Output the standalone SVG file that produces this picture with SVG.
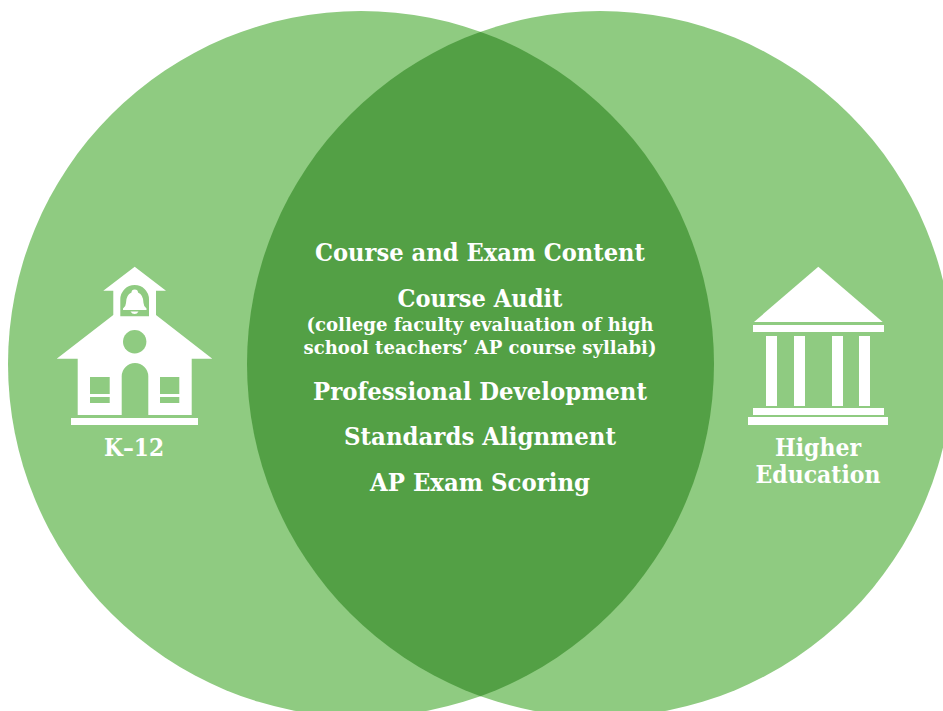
<svg xmlns="http://www.w3.org/2000/svg" width="943" height="711" viewBox="0 0 943 711">
<style>
.c{fill:#8fcb81}
.o{fill:#53a045}
text{fill:#fff;font-family:"DejaVu Serif","Liberation Serif",serif;font-weight:700;text-anchor:middle}
.h{font-size:24.500px}
.s{font-size:18.500px}
.i{fill:#fff}
</style>
<defs>
<clipPath id="cl"><circle cx="361" cy="364" r="353"/></clipPath>
</defs>
<rect width="943" height="711" fill="#fff"/>
<g id="venn">
<circle class="c" cx="361" cy="364" r="353"/>
<circle class="c" cx="600" cy="364" r="353"/>
<circle class="o" cx="600" cy="364" r="353" clip-path="url(#cl)"/>
</g>
<g id="k12">
<path class="i" fill-rule="evenodd" d="M134.700 266.700L166 290.700H156V315L212.300 358.700H191.700V415H148.300V376.300A13.300 13.300 0 0 0 121.700 376.300V415H77.700V358.700H56.700L113.300 315V290.700H103.300ZM120.300 316.300H149V299.300A14.300 14.300 0 0 0 120.300 299.300Z"/>
<path class="i" d="M134.700 289.500Q138 289.500 138 292.500Q143.500 295 143.500 303Q143.500 306 146.500 308.500V310H123V308.500Q126 306 126 303Q126 295 131.500 292.500Q131.500 289.500 134.700 289.500ZM130.500 311.500H138.500Q137 314 134.700 314Q132 314 130.500 311.500Z"/>
<circle cx="134.700" cy="341.700" r="11.700" class="c"/>
<rect x="90" y="377" width="19.700" height="17" class="c"/>
<rect x="90" y="397" width="19.700" height="6" class="c"/>
<rect x="160" y="377" width="19.300" height="17" class="c"/>
<rect x="160" y="397" width="19.300" height="6" class="c"/>
<rect x="71" y="418" width="127" height="7" class="i"/>
<text class="h" x="134" y="456" textLength="60" lengthAdjust="spacingAndGlyphs">K–12</text>
</g>
<g id="higher">
<path class="i" d="M818.300 266.700L882.700 322H754Z"/>
<rect x="753" y="325" width="131" height="7" class="i"/>
<rect x="766" y="336" width="11" height="70" class="i"/>
<rect x="794" y="336" width="11" height="70" class="i"/>
<rect x="832" y="336" width="11" height="70" class="i"/>
<rect x="859" y="336" width="11" height="70" class="i"/>
<rect x="753" y="408" width="131" height="7" class="i"/>
<rect x="748" y="417" width="140" height="8" class="i"/>
<text class="h" x="818" y="456" textLength="86" lengthAdjust="spacingAndGlyphs">Higher</text>
<text class="h" x="818" y="483" textLength="125" lengthAdjust="spacingAndGlyphs">Education</text>
</g>
<g id="shared">
<text class="h" x="480" y="261" textLength="330" lengthAdjust="spacingAndGlyphs">Course and Exam Content</text>
<text class="h" x="480" y="307" textLength="165" lengthAdjust="spacingAndGlyphs">Course Audit</text>
<text class="s" x="480" y="331" textLength="347" lengthAdjust="spacingAndGlyphs">(college faculty evaluation of high</text>
<text class="s" x="480" y="354" textLength="353" lengthAdjust="spacingAndGlyphs">school teachers’ AP course syllabi)</text>
<text class="h" x="480" y="400" textLength="334" lengthAdjust="spacingAndGlyphs">Professional Development</text>
<text class="h" x="480" y="445" textLength="272" lengthAdjust="spacingAndGlyphs">Standards Alignment</text>
<text class="h" x="480" y="491" textLength="220" lengthAdjust="spacingAndGlyphs">AP Exam Scoring</text>
</g>
</svg>
